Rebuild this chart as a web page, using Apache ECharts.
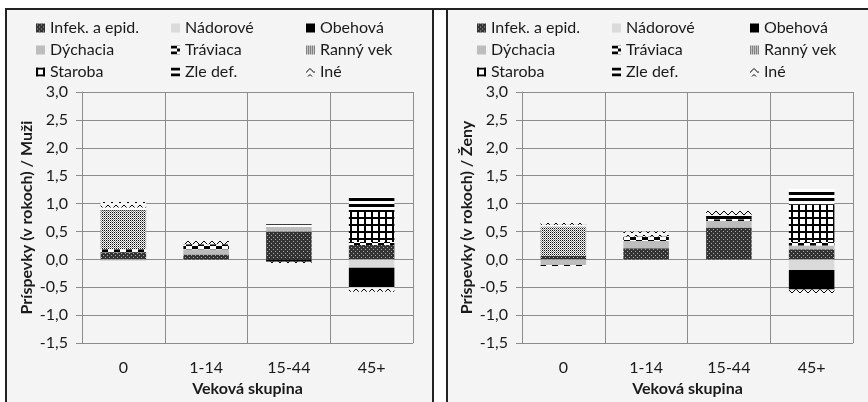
<!DOCTYPE html>
<html><head><meta charset="utf-8">
<script src="https://cdn.jsdelivr.net/npm/echarts@6/dist/echarts.min.js"></script>
<style>html,body{margin:0;padding:0;background:#fff}#c{width:868px;height:402px}</style>
</head><body><div id="c"></div>
<script>
// ---- data ----
const categories = ['0', '1-14', '15-44', '45+'];
const seriesNames = ['Infek. a epid.', 'Nádorové', 'Obehová', 'Dýchacia', 'Tráviaca', 'Ranný vek', 'Staroba', 'Zle def.', 'Iné'];
const panelTitles = ['Príspevky (v rokoch) / Muži', 'Príspevky (v rokoch) / Ženy'];
const xAxisTitle = 'Veková skupina';
const yTicks = [-1.5, -1.0, -0.5, 0, 0.5, 1.0, 1.5, 2.0, 2.5, 3.0];

// Muži
const muziInfek    = [0.13, 0.09, 0.50, 0.26];
const muziNador    = [-0.03, 0, 0, -0.15];
const muziObeh     = [0, 0, -0.04, -0.35];
const muziDych     = [0, 0.09, 0.08, 0];
const muziTrav     = [0.05, 0.09, 0, 0.05];
const muziRanny    = [0.70, 0, 0, 0];
const muziStaroba  = [0, 0, 0, 0.54];
const muziZle      = [0.05, 0, 0.05, 0.27];
const muziIne      = [0.10, 0.08, -0.06, -0.08];

// Ženy
const zenyInfek    = [0.06, 0.20, 0.57, 0.18];
const zenyNador    = [0, 0, 0, -0.19];
const zenyObeh     = [0, 0, 0, -0.35];
const zenyDych     = [-0.10, 0.13, 0.12, 0.07];
const zenyTrav     = [-0.02, 0.08, 0.03, 0.06];
const zenyRanny    = [0.53, 0, 0, 0];
const zenyStaroba  = [0, 0, 0, 0.67];
const zenyZle      = [0.03, 0, 0.07, 0.28];
const zenyIne      = [0.07, 0.09, 0.09, -0.10];

const muzi = [muziInfek, muziNador, muziObeh, muziDych, muziTrav, muziRanny, muziStaroba, muziZle, muziIne];
const zeny = [zenyInfek, zenyNador, zenyObeh, zenyDych, zenyTrav, zenyRanny, zenyStaroba, zenyZle, zenyIne];

// ---- patterns ----
function pat(w, h, draw) {
  const c = document.createElement('canvas'); c.width = w; c.height = h;
  const g = c.getContext('2d'); draw(g); return { image: c, repeat: 'repeat' };
}
const fills = [
  pat(4, 4, g => { g.fillStyle = '#333'; g.fillRect(0,0,4,4); g.fillStyle = '#aaa'; g.fillRect(1,1,1,1); g.fillRect(3,3,1,1); }),
  '#dadada',
  '#000000',
  '#bdbdbd',
  pat(12, 6, g => { g.fillStyle = '#fff'; g.fillRect(0,0,12,6); g.fillStyle = '#000'; g.fillRect(0,0,6,3); g.fillRect(6,3,6,3); }),
  pat(2, 2, g => { g.fillStyle = '#f6f6f6'; g.fillRect(0,0,2,2); g.fillStyle = '#111'; g.fillRect(0,0,1,1); g.fillStyle = '#8a8a8a'; g.fillRect(1,1,1,1); }),
  pat(7, 7, g => { g.fillStyle = '#fff'; g.fillRect(0,0,7,7); g.fillStyle = '#000'; g.fillRect(0,0,7,2); g.fillRect(0,0,2,7); }),
  pat(1, 6, g => { g.fillStyle = '#fff'; g.fillRect(0,0,1,6); g.fillStyle = '#000'; g.fillRect(0,0,1,3); }),
  pat(8, 6, g => { g.fillStyle = '#f4f4f4'; g.fillRect(0,0,8,6); g.strokeStyle = '#000'; g.lineWidth = 1; g.beginPath(); g.moveTo(0,5); g.lineTo(4,1); g.lineTo(8,5); g.stroke(); })
];

const font = 'Lato, "Open Sans", sans-serif';
const txt = '#1a1a1a';
const FS = 16;
const grids = [
  { left: 82, top: 92, width: 331, height: 256 },
  { left: 522, top: 92, width: 331, height: 256 }
];

function fmt(v) { return v.toFixed(1).replace('.', ','); }

const xAxes = grids.map((g, i) => ({
  type: 'category', gridIndex: i, data: categories,
  name: xAxisTitle, nameLocation: 'middle', nameGap: 37,
  nameTextStyle: { fontFamily: font, fontSize: FS, fontWeight: 'bold', color: txt },
  axisLine: { show: true, lineStyle: { color: '#8c8c8c' } },
  axisTick: { show: false },
  axisLabel: { fontFamily: font, fontSize: FS, color: txt, margin: 17 },
  splitLine: { show: true, interval: 0, lineStyle: { color: '#8c8c8c', width: 1 } }
}));
const yAxes = grids.map((g, i) => ({
  type: 'value', gridIndex: i, min: yTicks[0], max: yTicks[yTicks.length - 1], interval: 0.5,
  name: panelTitles[i], nameLocation: 'middle', nameGap: 47, nameRotate: 90,
  nameTextStyle: { fontFamily: font, fontSize: FS, fontWeight: 'bold', color: txt },
  axisLine: { show: true, lineStyle: { color: '#8c8c8c' } },
  axisTick: { show: true, length: 6, lineStyle: { color: '#8c8c8c' } },
  axisLabel: { fontFamily: font, fontSize: FS, color: txt, margin: 14, formatter: fmt },
  splitLine: { show: true, lineStyle: { color: '#8c8c8c', width: 1 } }
}));

const series = [];
[muzi, zeny].forEach((set, p) => {
  set.forEach((vals, k) => {
    series.push({
      type: 'bar', name: seriesNames[k], xAxisIndex: p, yAxisIndex: p,
      stack: 'p' + p, barWidth: '55%', data: vals,
      itemStyle: { color: fills[k] }, emphasis: { disabled: true }, animation: false
    });
  });
});

const legendCols = [[0, 3, 6], [1, 4, 7], [2, 5, 8]];
const legendLeft = [[36, 171, 306], [477, 612, 750]];
const legends = [];
legendLeft.forEach(arr => arr.forEach((x, c) => {
  legends.push({
    orient: 'vertical', left: x, top: 19, padding: 0, itemGap: 4,
    itemWidth: 9, itemHeight: 9, icon: 'rect', selectedMode: false,
    data: legendCols[c].map(k => seriesNames[k]),
    textStyle: { fontFamily: font, fontSize: FS, color: txt, lineHeight: 18 }
  });
}));

const chart = echarts.init(document.getElementById('c'), null, { renderer: 'canvas' });
chart.setOption({
  backgroundColor: '#ffffff',
  animation: false,
  graphic: [
    { type: 'rect', z: -10, shape: { x: 6, y: 9, width: 427, height: 400 }, style: { fill: '#f4f4f4', stroke: '#222', lineWidth: 2 } },
    { type: 'rect', z: -10, shape: { x: 447, y: 9, width: 430, height: 400 }, style: { fill: '#f4f4f4', stroke: '#222', lineWidth: 2 } },
    { type: 'line', z: -9, shape: { x1: 433, y1: 9, x2: 447, y2: 9 }, style: { stroke: '#222', lineWidth: 2 } }
  ],
  legend: legends,
  grid: grids,
  xAxis: xAxes,
  yAxis: yAxes,
  series: series
});
</script></body></html>
